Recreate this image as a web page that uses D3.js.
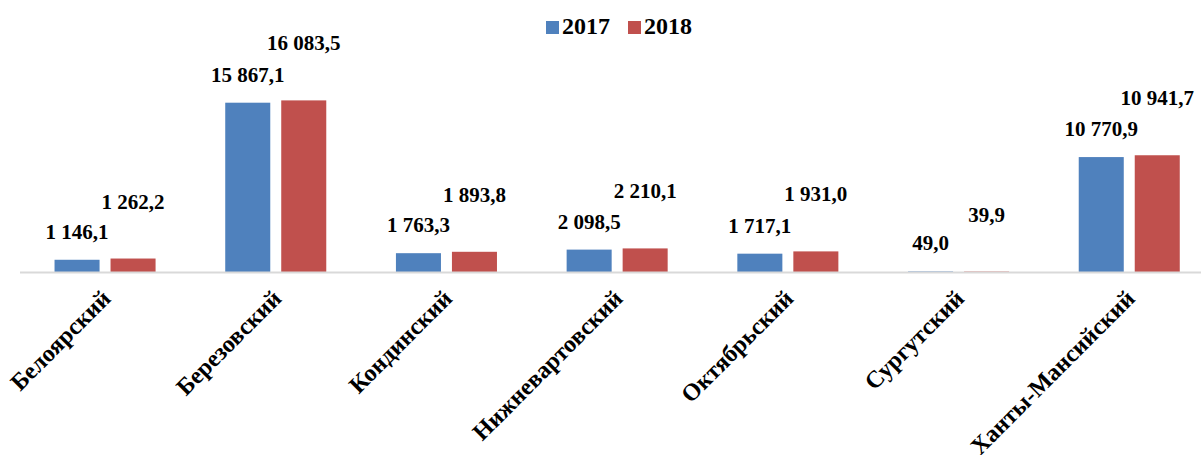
<!DOCTYPE html>
<html>
<head>
<meta charset="utf-8">
<script src="https://cdn.jsdelivr.net/npm/d3@7"></script>
<style>
  body { margin: 0; background: #fff; }
  svg { display: block; font-family: "Liberation Serif", "Times New Roman", serif; font-weight: bold; }
</style>
</head>
<body>
<div id="chart"></div>
<script>
// data
var districts = ["Белоярский", "Березовский", "Кондинский", "Нижневартовский", "Октябрьский", "Сургутский", "Ханты-Мансийский"];
var years = ["2017", "2018"];
var values2017 = [1146.1, 15867.1, 1763.3, 2098.5, 1717.1, 49.0, 10770.9];
var values2018 = [1262.2, 16083.5, 1893.8, 2210.1, 1931.0, 39.9, 10941.7];
var colors = ["#4F81BD", "#C0504D"];

var w = 1201, h = 455;
var base = 272;

var svg = d3.select("#chart").append("svg")
    .attr("width", w)
    .attr("height", h);

var rows = districts.map(function (d, i) {
    return { name: d, vals: [values2017[i], values2018[i]] };
});

//scales
var x = d3.scaleBand()
    .domain(districts)
    .range([19.7, 19.7 + 170.7 * districts.length]);

var xs = d3.scaleBand()
    .domain(years)
    .range([0, x.bandwidth()])
    .paddingInner(0.196)
    .paddingOuter(0.622);

var y = d3.scaleLinear()
    .domain([0, 18000])
    .range([base, base - 18000 * 0.01067]);

var ru = d3.formatLocale({ decimal: ",", thousands: " ", grouping: [3], currency: ["", ""] });
var fmt = ru.format(",.1f");

// label offset above each bar, per series
var labelOffset = [21, 50];

var groups = svg.selectAll("g.grp")
    .data(rows)
    .enter()
    .append("g")
    .attr("class", "grp")
    .attr("transform", function (d) { return "translate(" + x(d.name) + ",0)"; });

groups.selectAll("rect")
    .data(function (d) { return d.vals.map(function (v, j) { return { v: v, k: years[j], j: j }; }); })
    .enter()
    .append("rect")
    .attr("x", function (d) { return xs(d.k); })
    .attr("width", xs.bandwidth())
    .attr("y", function (d) { return y(d.v); })
    .attr("height", function (d) { return base - y(d.v); })
    .style("fill", function (d) { return colors[d.j]; });

groups.selectAll("text.val")
    .data(function (d) { return d.vals.map(function (v, j) { return { v: v, k: years[j], j: j }; }); })
    .enter()
    .append("text")
    .attr("class", "val")
    .attr("x", function (d) { return xs(d.k) + xs.bandwidth() / 2; })
    .attr("y", function (d) { return y(d.v) - labelOffset[d.j]; })
    .attr("text-anchor", "middle")
    .style("font-size", "21px")
    .text(function (d) { return fmt(d.v); });

//axis line
svg.append("line")
    .attr("x1", 20)
    .attr("x2", w)
    .attr("y1", base + 0.5)
    .attr("y2", base + 0.5)
    .style("stroke", "#d9d9d9")
    .style("stroke-width", 2);

//category labels
svg.selectAll("text.cat")
    .data(districts)
    .enter()
    .append("text")
    .attr("class", "cat")
    .attr("text-anchor", "end")
    .attr("transform", function (d) {
        return "translate(" + (x(d) + x.bandwidth() / 2 + 7) + "," + (base + 28) + ") rotate(-45)";
    })
    .style("font-size", "24px")
    .text(function (d) { return d; });

//legend
var legend = svg.append("g").attr("transform", "translate(546,0)");
var legX = [0, 82];
years.forEach(function (yr, i) {
    legend.append("rect")
        .attr("x", legX[i])
        .attr("y", 21)
        .attr("width", 13)
        .attr("height", 13)
        .style("fill", colors[i]);
    legend.append("text")
        .attr("x", legX[i] + 16)
        .attr("y", 34)
        .style("font-size", "24px")
        .text(yr);
});
</script>
</body>
</html>
